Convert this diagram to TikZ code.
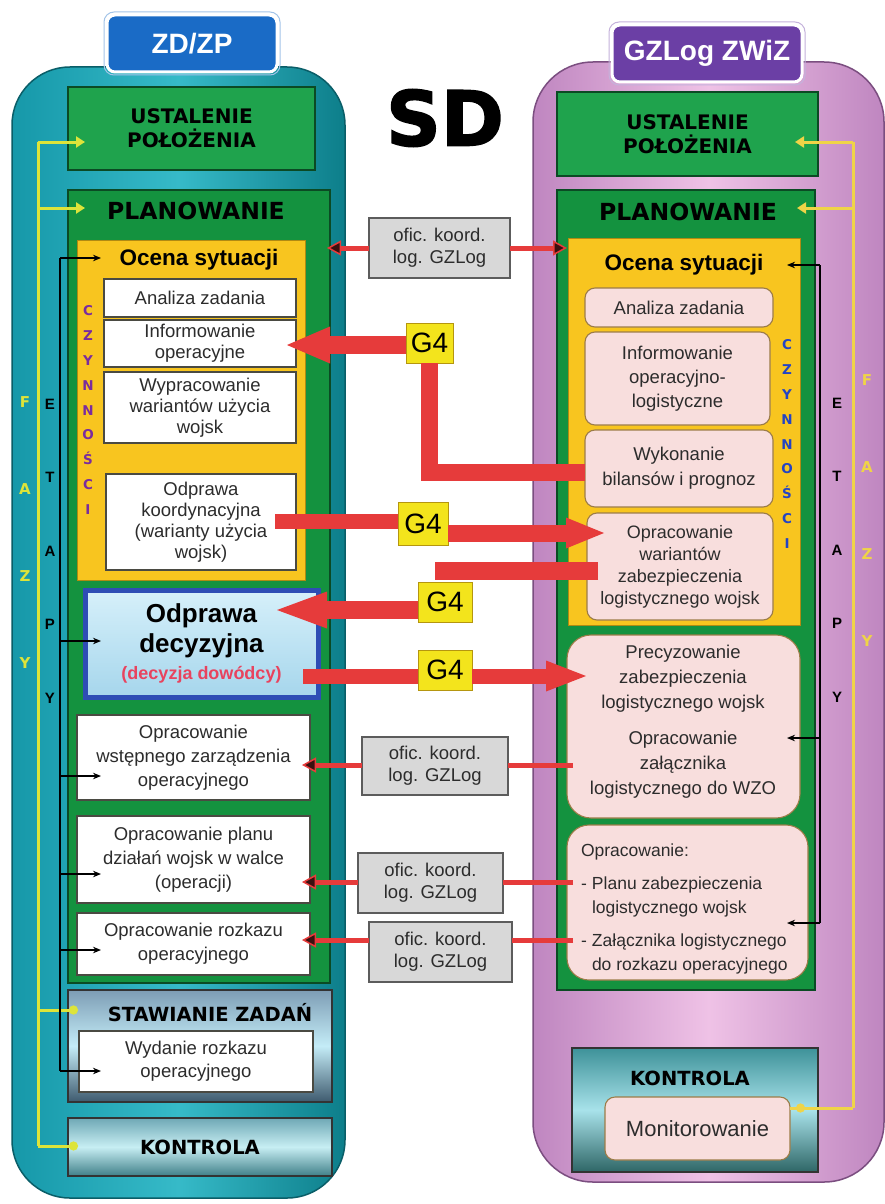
\documentclass[tikz,border=0pt]{standalone}
\usepackage{fontspec}
\setmainfont{Liberation Sans}
\newfontfamily\heavy{DejaVu Sans}
\newfontfamily\sdfont[BoldFeatures={FakeBold=2}]{DejaVu Sans}
\usetikzlibrary{arrows.meta}

\definecolor{tealL}{HTML}{36BAC8}
\definecolor{tealD}{HTML}{1698A9}
\definecolor{tealR}{HTML}{0D7E8A}
\definecolor{tealEdge}{HTML}{0A5E68}
\definecolor{violL}{HTML}{EFC2E6}
\definecolor{violD}{HTML}{BF86C0}
\definecolor{violEdge}{HTML}{7B4E80}
\definecolor{greenU}{HTML}{1FA34D}
\definecolor{greenP}{HTML}{14923F}
\definecolor{greenEdge}{HTML}{0B4A24}
\definecolor{yellowO}{HTML}{F8C51F}
\definecolor{yellowEdge}{HTML}{B08A12}
\definecolor{pinkBox}{HTML}{F8DEDD}
\definecolor{pinkEdge}{HTML}{9C7C48}
\definecolor{wEdge}{HTML}{4A4A42}
\definecolor{redA}{HTML}{E63B3B}
\definecolor{tipFill}{HTML}{3A1010}
\definecolor{gFill}{HTML}{F3E41C}
\definecolor{gEdge}{HTML}{B5960F}
\definecolor{oficFill}{HTML}{D8D8D8}
\definecolor{oficEdge}{HTML}{5C5C5C}
\definecolor{txt}{HTML}{2C2C2C}
\definecolor{fazyL}{HTML}{DDE43A}
\definecolor{fazyR}{HTML}{EFD447}
\definecolor{czynL}{HTML}{7A2C9E}
\definecolor{czynR}{HTML}{2444C4}
\definecolor{blueHead}{HTML}{1A6BC6}
\definecolor{purpleHead}{HTML}{6B3FA5}
\definecolor{odpEdge}{HTML}{2E4DB5}
\definecolor{odpTop}{HTML}{D6F0FA}
\definecolor{odpBot}{HTML}{A6D6EC}
\definecolor{decRed}{HTML}{E8435E}
\definecolor{stawTop}{HTML}{7D9DB5}
\definecolor{stawMid}{HTML}{C4ECF7}
\definecolor{stawBot}{HTML}{3E5A6E}
\definecolor{konTop}{HTML}{6FA8B5}
\definecolor{konMid}{HTML}{C7EEF3}
\definecolor{konBot}{HTML}{3F7F88}
\definecolor{rkTop}{HTML}{3E9299}
\definecolor{rkMid}{HTML}{A8E2EA}
\definecolor{rkBot}{HTML}{2E6666}

\newcommand\fs[2]{\fontsize{#1}{#2}\selectfont}
% box given by its top-left and bottom-right corners
\newcommand\place[7]{\node[#1,anchor=north west,minimum width=#5-#3,minimum height=#6-#4] (#2) at (#3,#4) {#7};}

\begin{document}
\begin{tikzpicture}[x=1pt,y=-1pt,
  every node/.style={inner sep=0pt,outer sep=0pt,text=txt},
  greenbox/.style={draw=greenEdge,line width=1.4pt,fill=greenU,align=center,
    text=black,font=\heavy\bfseries\fs{20}{24}},
  planbox/.style={draw=greenEdge,line width=1.4pt,fill=greenP},
  ocenabox/.style={draw=yellowEdge,line width=1pt,fill=yellowO},
  wbox/.style={draw=wEdge,line width=1.1pt,fill=white,align=center,font=\fs{18.5}{21}},
  pbox/.style={draw=pinkEdge,line width=1.1pt,fill=pinkBox,rounded corners=10pt,
    align=center,font=\fs{18.5}{24}},
  odpbox/.style={draw=odpEdge,line width=5pt,top color=odpTop,bottom color=odpBot,
    align=center,text=black,font=\bfseries\fs{26}{30}},
  stawbox/.style={draw=black!80,line width=1.4pt,top color=stawTop,bottom color=stawBot,
    middle color=stawMid},
  kontrbox/.style={draw=black!80,line width=1.4pt,top color=konTop,bottom color=konBot,
    middle color=konMid,text=black,font=\heavy\bfseries\fs{19.5}{24}},
  rkontrbox/.style={draw=black!80,line width=1.4pt,top color=rkTop,bottom color=rkBot,
    middle color=rkMid},
  heading/.style={text=black,font=\heavy\bfseries\fs{23.5}{26}},
  ocenahead/.style={text=black,font=\bfseries\fs{22.5}{26}},
  g4/.style={draw=gEdge,line width=1pt,fill=gFill,text=black,font=\fs{28}{30}},
  ofic/.style={draw=oficEdge,line width=1.2pt,fill=oficFill,align=center,font=\fs{18.5}{22}},
  header/.style={draw=white,line width=3pt,rounded corners=8pt,text=white,
    font=\bfseries\fs{28}{30}},
  czyn/.style={align=center,font=\heavy\bfseries\fs{13.5}{24.8}},
  etapy/.style={align=center,text=black,font=\bfseries\fs{15}{73.5}},
  fazy/.style={align=center,font=\heavy\bfseries\fs{15}{87}},
  fazyline/.style={line width=3pt},
  fazytip/.style={-{Triangle[length=9pt,width=11pt]}},
  fazydot/.style={-{Circle[length=9pt]}},
  etapline/.style={line width=1.3pt,black},
  etaptip/.style={line width=1.3pt,black,-{Stealth[length=8pt,width=6.5pt]}},
  oficline/.style={draw=redA,line width=5pt},
  ofictip/.style={draw=redA,line width=5pt,
    -{Triangle[length=14pt,width=15pt,fill=tipFill,line width=1.5pt]}},
  bigred/.style={draw=redA,line width=#1,line join=miter}
]
\useasboundingbox (0,0) rectangle (885,1204);
\fill[white] (0,0) rectangle (885,1204);

% ---------- the two columns ----------
\path[draw=tealEdge,line width=1.5pt,rounded corners=58pt,
  left color=tealD,right color=tealR,middle color=tealL]
  (12,67) rectangle (345,1198);
\path[draw=violEdge,line width=1.5pt,rounded corners=60pt,
  left color=violD,right color=violD,middle color=violL]
  (533,62) rectangle (884,1182);

% ---------- column headers ----------
\draw[blueHead!40,line width=1pt,rounded corners=10pt] (104,12) rectangle (280,75);
\place{header,fill=blueHead}{hL}{107}{15}{277}{72}{ZD/ZP}
\draw[purpleHead!40,line width=1pt,rounded corners=10pt] (609,22) rectangle (805,85);
\place{header,fill=purpleHead}{hR}{612}{25}{802}{82}{GZLog ZWiZ}

% ---------- title ----------
\node[text=black,font=\sdfont\bfseries\fs{76}{76}] (sd) at (445,118) {SD};

% ---------- left column: ZD/ZP ----------
\place{greenbox}{lUst}{68}{87}{315}{170}{USTALENIE\\POŁOŻENIA}
\place{planbox}{lPlan}{68}{190}{330}{983}{}
\node[heading] (lPlanH) at (196,211) {PLANOWANIE};
\place{ocenabox}{lOcena}{77}{240}{305}{580}{}
\node[ocenahead] (lOcenaH) at (199,260) {Ocena sytuacji};
\place{wbox}{lAnal}{104}{279}{296}{317}{Analiza zadania}
\place{wbox}{lInfo}{104}{320}{296}{367}{Informowanie\\operacyjne}
\place{wbox}{lWypr}{104}{372}{296}{443}{Wypracowanie\\wariantów użycia\\wojsk}
\place{wbox}{lOdpK}{106}{474}{296}{570}{Odprawa\\koordynacyjna\\(warianty użycia\\wojsk)}
\node[czyn,text=czynL] (lCzyn) at (88,410) {C\\Z\\Y\\N\\N\\O\\Ś\\C\\I};
\place{odpbox}{lOdpD}{85}{590}{318}{697}{Odprawa\\decyzyjna\\[-3pt]\fs{18}{22}\color{decRed}(decyzja dowódcy)}
\place{wbox,font=\fs{18.5}{24}}{lWzo}{77}{715}{310}{800}{Opracowanie\\wstępnego zarządzenia\\operacyjnego}
\place{wbox,font=\fs{18.5}{24}}{lPlanu}{77}{816}{310}{903}{Opracowanie planu\\działań wojsk w walce\\(operacji)}
\place{wbox,font=\fs{18.5}{24}}{lRozk}{77}{913}{310}{975}{Opracowanie rozkazu\\operacyjnego}
\place{stawbox}{lStaw}{68}{990}{332}{1102}{}
\node[text=black,font=\heavy\bfseries\fs{19.5}{24}] (lStawH) at (210,1013) {STAWIANIE ZADAŃ};
\place{wbox,font=\fs{18.5}{23}}{lWyd}{79}{1031}{313}{1092}{Wydanie rozkazu\\operacyjnego}
\place{kontrbox}{lKontr}{68}{1118}{332}{1176}{KONTROLA}

% ---------- right column: GZLog ZWiZ ----------
\place{greenbox}{rUst}{557}{92}{818}{176}{USTALENIE\\POŁOŻENIA}
\place{planbox}{rPlan}{557}{190}{815}{990}{}
\node[heading] (rPlanH) at (688,212) {PLANOWANIE};
\place{ocenabox}{rOcena}{568}{238}{800}{625}{}
\node[ocenahead] (rOcenaH) at (684,265) {Ocena sytuacji};
\place{pbox}{rAnal}{585}{288}{773}{327}{Analiza zadania}
\place{pbox}{rInfo}{585}{332}{770}{425}{Informowanie\\operacyjno-\\logistyczne}
\place{pbox,font=\fs{18.5}{25}}{rWyk}{585}{430}{773}{507}{Wykonanie\\bilansów i prognoz}
\place{pbox,font=\fs{18}{22}}{rOpW}{587}{513}{773}{620}{Opracowanie\\wariantów\\zabezpieczenia\\logistycznego wojsk}
\node[czyn,text=czynR] (rCzyn) at (787,444) {C\\Z\\Y\\N\\N\\O\\Ś\\C\\I};
\place{pbox,rounded corners=24pt}{rPrec}{567}{635}{800}{818}{}
\node[align=center,font=\fs{18.5}{25}] (rPrecText) at (683,722)
  {Precyzowanie\\zabezpieczenia\\logistycznego wojsk\\[11pt]Opracowanie\\załącznika\\logistycznego do WZO};
\place{pbox,rounded corners=22pt}{rOpr}{567}{825}{808}{980}{}
\node[anchor=north west,align=left,font=\fs{17.5}{24}] (rOprText) at (581,844)
  {Opracowanie:\\[9pt]\makebox[11pt][l]{-}Planu zabezpieczenia\\\hspace*{11pt}logistycznego wojsk\\[9pt]\makebox[11pt][l]{-}Załącznika logistycznego\\\hspace*{11pt}do rozkazu operacyjnego};
\place{rkontrbox}{rKontr}{572}{1048}{818}{1172}{}
\node[text=black,font=\heavy\bfseries\fs{19.5}{24}] (rKontrH) at (690,1078) {KONTROLA};
\place{pbox,font=\fs{22}{26}}{rMon}{605}{1097}{790}{1160}{Monitorowanie}

% ---------- phases (FAZY) ----------
\node[fazy,text=fazyL] (lFazy) at (25,533) {F\\A\\Z\\Y};
\node[fazy,text=fazyR] (rFazy) at (867,511) {F\\A\\Z\\Y};
\coordinate (fL1) at (38,142);
\coordinate (fL2) at (38,208);
\coordinate (fL3) at (38,1010);
\coordinate (fL4) at (38,1146);
\draw[fazyline,fazyL] (fL1) -- (fL4);
\draw[fazyline,fazyL,fazytip] (fL1) -- (lUst.west |- fL1) -- ++(17,0);
\draw[fazyline,fazyL,fazytip] (fL2) -- (lPlan.west |- fL2) -- ++(17,0);
\draw[fazyline,fazyL,fazydot] (fL3) -- (lStaw.west |- fL3) -- ++(10,0);
\draw[fazyline,fazyL,fazydot] (fL4) -- (lKontr.west |- fL4) -- ++(10,0);
\coordinate (fR1) at (853,142);
\coordinate (fR2) at (853,208);
\coordinate (fR3) at (853,1108);
\draw[fazyline,fazyR] (fR1) -- (fR3);
\draw[fazyline,fazyR,fazytip] (fR1) -- (rUst.east |- fR1) -- ++(-23,0);
\draw[fazyline,fazyR,fazytip] (fR2) -- (rPlan.east |- fR2) -- ++(-18,0);
\draw[fazyline,fazyR,fazydot] (fR3) -- (rMon.east |- fR3) -- ++(15,0);

% ---------- stages (ETAPY) ----------
\node[etapy] (lEtapy) at (50,551) {E\\T\\A\\P\\Y};
\node[etapy] (rEtapy) at (837,550) {E\\T\\A\\P\\Y};
\coordinate (eL1) at (60,258);
\coordinate (eL2) at (60,641);
\coordinate (eL3) at (60,776);
\coordinate (eL4) at (60,874);
\coordinate (eL5) at (60,950);
\coordinate (eL6) at (60,1071);
\draw[etapline] (eL1) -- (eL6);
\foreach \e in {eL1,eL2,eL3,eL4,eL5,eL6} \draw[etaptip] (\e) -- ++(41,0);
\coordinate (eR1) at (820,265);
\coordinate (eR2) at (820,738);
\coordinate (eR3) at (820,923);
\draw[etapline] (eR1) -- (eR3);
\foreach \e in {eR1,eR2,eR3} \draw[etaptip] (\e) -- ++(-33,0);

% ---------- logistics coordination officers ----------
\place{ofic}{oTop}{369}{218}{510}{278}{ofic. koord.\\log. GZLog}
\place{ofic}{oA}{362}{737}{508}{795}{ofic. koord.\\log. GZLog}
\place{ofic}{oB}{358}{853}{503}{913}{ofic. koord.\\log. GZLog}
\place{ofic}{oC}{369}{922}{512}{982}{ofic. koord.\\log. GZLog}
\coordinate (tTopL) at (327,248);
\coordinate (tTopR) at (567,248);
\draw[ofictip] (oTop.west |- tTopL) -- (tTopL);
\draw[ofictip] (oTop.east |- tTopR) -- (tTopR);
\coordinate (sA) at (573,765);
\coordinate (sB) at (573,882);
\coordinate (sC) at (573,940);
\draw[oficline] (sA) -- (oA.east |- sA);
\draw[ofictip] (oA.west |- sA) -- (lWzo.east |- sA) -- ++(-8,0);
\draw[oficline] (sB) -- (oB.east |- sB);
\draw[ofictip] (oB.west |- sB) -- (lPlanu.east |- sB) -- ++(-8,0);
\draw[oficline] (sC) -- (oC.east |- sC);
\draw[ofictip] (oC.west |- sC) -- (lRozk.east |- sC) -- ++(-8,0);

% ---------- G4 exchanges ----------
\place{g4}{gA}{406}{323}{453}{363}{G4}
\place{g4}{gB}{398}{502}{448}{545}{G4}
\place{g4}{gC}{418}{582}{472}{622}{G4}
\place{g4}{gD}{418}{650}{472}{690}{G4}

% G4 -> Informowanie operacyjne, fed from Wykonanie bilansów i prognoz
\coordinate (tA) at (287,345);
\coordinate (cA) at (585,472);
\draw[bigred=18pt,-{Triangle[length=43pt,width=37pt,line width=0pt]}] (gA.west |- tA) -- (tA);
\draw[bigred=17pt] (cA) -- (gA.south |- cA) -- (gA.south);

% Odprawa koordynacyjna -> G4 -> Opracowanie wariantów
\coordinate (sB2) at (275,521);
\coordinate (tB) at (604,533);
\draw[bigred=15pt] (sB2) -- (gB.west |- sB2);
\draw[bigred=17pt,-{Triangle[length=38pt,width=31pt,line width=0pt]}] (gB.east |- tB) -- (tB);

% Opracowanie wariantów -> G4 -> Odprawa decyzyjna
\coordinate (sC2) at (598,571);
\coordinate (cC) at (435,571);
\coordinate (tC) at (277,610);
\draw[bigred=18pt] (sC2) -- (cC);
\draw[bigred=18pt,-{Triangle[length=50pt,width=37pt,line width=0pt]}] (gC.west |- tC) -- (tC);

% decyzja dowódcy -> G4 -> Precyzowanie
\coordinate (sD) at (303,676);
\coordinate (tD) at (586,676);
\draw[bigred=15pt] (sD) -- (gD.west |- sD);
\draw[bigred=15pt,-{Triangle[length=40pt,width=31pt,line width=0pt]}] (gD.east |- tD) -- (tD);
\end{tikzpicture}
\end{document}
